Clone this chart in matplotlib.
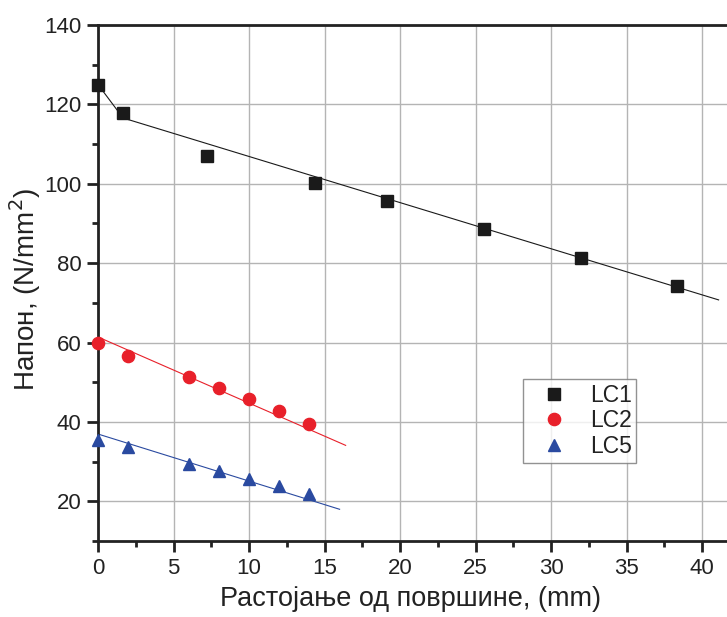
import matplotlib
matplotlib.use("Agg")
import matplotlib.pyplot as plt
from matplotlib.ticker import MultipleLocator
import numpy as np

plt.rcParams['font.family'] = ['Liberation Sans', 'DejaVu Sans']

# Measured stress vs. distance from surface
lc1_x = [0.0, 1.66, 7.2, 14.37, 19.15, 25.58, 32.0, 38.35]
lc1_y = [125.0, 117.8, 107.1, 100.3, 95.7, 88.5, 81.3, 74.2]

lc2_x = [0, 2, 6, 8, 10, 12, 14]
lc2_y = [60.0, 56.5, 51.4, 48.6, 45.9, 42.7, 39.6]

lc5_x = [0, 2, 6, 8, 10, 12, 14]
lc5_y = [35.4, 33.6, 29.4, 27.6, 25.7, 23.8, 21.9]

# Fitted trend lines: (intercept, slope, x start, x end)
lc1_fit = (118.5, -1.162, 1.66, 41.1)
lc2_fit = (61.4, -1.665, 0.0, 16.4)
lc5_fit = (36.95, -1.185, 0.0, 16.0)

labels = ["LC1", "LC2", "LC5"]
colors = ["#1a1a1a", "#e8202a", "#2a4aa0"]

W, H = 727, 617
ax_left, ax_top, ax_bottom = 98, 25, 541
ax_w = 44 * 15.1
ax_h = ax_bottom - ax_top

fig = plt.figure(figsize=(W / 100, H / 100), dpi=100)
ax = fig.add_axes([ax_left / W, 1 - ax_bottom / H, ax_w / W, ax_h / H])

def fit_line(fit):
    b, m, x0, x1 = fit
    xs = np.array([x0, x1])
    return xs, b + m * xs

# LC1: first segment joins the surface point, then the linear trend
fx, fy = fit_line(lc1_fit)
ax.plot([lc1_x[0]] + list(fx), [lc1_y[0]] + list(fy), color=colors[0], lw=0.8, zorder=2)
fx, fy = fit_line(lc2_fit)
ax.plot(fx, fy, color=colors[1], lw=0.8, zorder=2)
fx, fy = fit_line(lc5_fit)
ax.plot(fx, fy, color=colors[2], lw=0.8, zorder=2)

ax.plot(lc1_x, lc1_y, ls='none', marker='s', ms=8.0, color=colors[0], label=labels[0], zorder=3, clip_on=False)
ax.plot(lc2_x, lc2_y, ls='none', marker='o', ms=8.8, color=colors[1], label=labels[1], zorder=3, clip_on=False)
ax.plot(lc5_x, lc5_y, ls='none', marker='^', ms=9.0, color=colors[2], label=labels[2], zorder=3, clip_on=False)

ax.set_xlim(0, 44)
ax.set_ylim(10, 140)
ax.xaxis.set_major_locator(MultipleLocator(5))
ax.xaxis.set_minor_locator(MultipleLocator(2.5))
ax.yaxis.set_minor_locator(MultipleLocator(10))
ax.set_yticks([20, 40, 60, 80, 100, 120, 140])

ax.grid(True, which='major', color='#b4b4b4', lw=1.0)
ax.set_axisbelow(True)

for side in ['left', 'bottom', 'top']:
    ax.spines[side].set_linewidth(2.0)
    ax.spines[side].set_color('#222222')
ax.spines['right'].set_visible(False)

ax.tick_params(which='major', direction='out', length=8, width=2, color='#222222',
               labelsize=16, pad=4, labelcolor='#222222')
ax.tick_params(which='minor', direction='out', length=4.5, width=2, color='#222222')
ax.tick_params(top=False, right=False, which='both')

ax.set_xlabel("Растојање од површине, (mm)", fontsize=19.5, color='#222222')
ax.set_ylabel("Напон, (N/mm$^2$)", fontsize=20, color='#222222')
ax.xaxis.set_label_coords((410 - ax_left) / ax_w, -(586 - ax_bottom) / ax_h)
ax.yaxis.set_label_coords((43 - ax_left) / ax_w, 1 - (290 - ax_top) / ax_h)

leg = ax.legend(loc='upper left',
                bbox_to_anchor=((523 - ax_left) / ax_w, 1 - (379 - ax_top) / ax_h),
                fontsize=16.5, frameon=True, fancybox=False, edgecolor='#777777',
                handlelength=2.3, handletextpad=0.42, borderpad=0.2, labelspacing=0.12,
                borderaxespad=0, markerscale=1.0)
leg.get_frame().set_linewidth(1.0)
for t in leg.get_texts():
    t.set_color('#222222')

fig.savefig("out.png", dpi=100)
